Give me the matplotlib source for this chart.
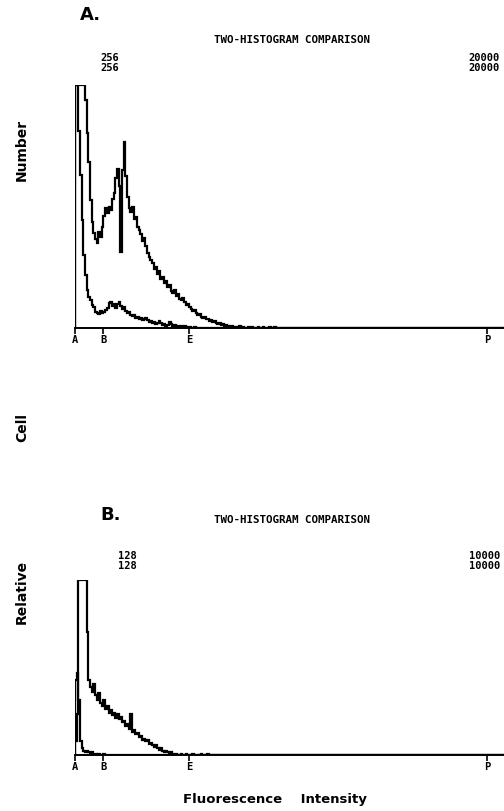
import numpy as np
import matplotlib
matplotlib.use("Agg")
import matplotlib.pyplot as plt

# channel counts (values at the top of scale are clipped)
a_test = [256, 256, 256, 256, 256, 256, 240, 205, 175, 135, 112, 100, 94, 90, 101, 96,
          106, 118, 126, 121, 127, 124, 136, 142, 158, 168, 150, 80, 166, 196, 160, 138,
          126, 122, 127, 115, 117, 106, 103, 99, 92, 95, 86, 79, 75, 72, 68, 62, 64, 57,
          60, 52, 54, 47, 49, 43, 45, 39, 37, 40, 34, 36, 31, 29, 32, 27, 24, 25, 22, 20,
          18, 19, 16, 14, 15, 12, 11, 12, 9, 10, 7, 8, 6, 7, 5, 4, 5, 3, 4, 2, 3, 2, 1, 2,
          1, 1, 0, 1, 2, 0, 1, 0, 0, 1, 0, 1, 0, 0, 0, 1, 0, 0, 1, 0, 0, 0, 1, 0, 0, 1]
a_ctrl = [256, 256, 208, 161, 114, 77, 56, 40, 33, 29, 24, 22, 17, 16, 15, 18, 16, 17,
          19, 21, 26, 27, 23, 25, 21, 25, 27, 23, 20, 22, 18, 16, 17, 14, 13, 14, 11, 12,
          9, 11, 8, 9, 11, 8, 6, 7, 5, 6, 4, 5, 7, 5, 3, 4, 2, 3, 6, 4, 2, 3, 1, 2, 1, 2,
          1, 2, 1, 0, 1, 0, 0, 1]
b_test = [10, 30, 128, 128, 128, 128, 128, 90, 55, 50, 46, 52, 44, 40, 45, 38, 36, 40,
          34, 36, 31, 33, 29, 31, 27, 30, 26, 28, 24, 25, 21, 23, 19, 30, 17, 18, 15, 16,
          13, 14, 11, 12, 10, 11, 8, 9, 7, 6, 7, 5, 4, 5, 3, 2, 3, 2, 1, 2, 1, 0, 1, 0, 0,
          1, 0, 0, 1, 0, 0, 0, 1, 0, 0, 0, 0, 1, 0, 0, 0, 1]
b_ctrl = [55, 60, 40, 10, 5, 3, 2, 3, 2, 1, 2, 1, 1, 0, 1, 0, 0, 1]

tick_pos = [0, 17, 68, 246]
tick_labels = ["A", "B", "E", "P"]

panels = [
    {"tag": "A.", "full": 256, "total": "20000", "test": a_test, "ctrl": a_ctrl},
    {"tag": "B.", "full": 128, "total": "10000", "test": b_test, "ctrl": b_ctrl},
]

W, H = 504, 811
NCH = 256
MONO = "DejaVu Sans Mono"
SANS = "DejaVu Sans"


def fx(px):
    return px / W


def fy(py):
    return 1 - py / H


def pad(vals):
    out = np.zeros(NCH)
    out[:len(vals)] = vals
    return out


def draw_panel(fig, p, top, bottom, tag_xy, title_y, num_x, num_y):
    ax = fig.add_axes([fx(75), fy(bottom), fx(W - 75), (bottom - top) / H])
    edges = np.arange(NCH + 1)
    for series in (p["ctrl"], p["test"]):
        ax.stairs(pad(series), edges, baseline=0, color="black", lw=1.6)
    ax.set_xlim(0, NCH)
    ax.set_ylim(0, p["full"])
    for s in ("left", "top", "right"):
        ax.spines[s].set_visible(False)
    ax.spines["bottom"].set_linewidth(1.4)
    ax.set_yticks([])
    ax.set_xticks(tick_pos)
    ax.set_xticklabels(tick_labels, family=MONO, fontsize=7.5, weight="bold")
    ax.tick_params(axis="x", direction="out", length=4, width=1.2, pad=1)

    fig.text(fx(tag_xy[0]), fy(tag_xy[1]), p["tag"], family=SANS, weight="heavy",
             fontsize=13, va="center")
    fig.text(fx(292), fy(title_y), "TWO-HISTOGRAM COMPARISON", family=MONO,
             weight="bold", fontsize=7.8, ha="center", va="center")
    for dy in (0, 10):
        fig.text(fx(num_x), fy(num_y + dy), str(p["full"]), family=MONO,
                 weight="bold", fontsize=7.5, va="baseline")
        fig.text(fx(500), fy(num_y + dy), p["total"], family=MONO,
                 weight="bold", fontsize=7.5, ha="right", va="baseline")


fig = plt.figure(figsize=(W / 100, H / 100), dpi=100)

draw_panel(fig, panels[0], 85, 328, (80, 15), 40, 100, 61)
draw_panel(fig, panels[1], 580, 755, (100, 515), 520, 118, 559)

for label, y in (("Number", 150), ("Cell", 428), ("Relative", 592)):
    fig.text(fx(22), fy(y), label, family=SANS, weight="bold", fontsize=10,
             rotation=90, ha="center", va="center")
fig.text(fx(275), fy(800), "Fluorescence    Intensity", family=SANS, weight="bold",
         fontsize=9.5, ha="center", va="center")

fig.savefig("out.png", dpi=100, facecolor="white")
